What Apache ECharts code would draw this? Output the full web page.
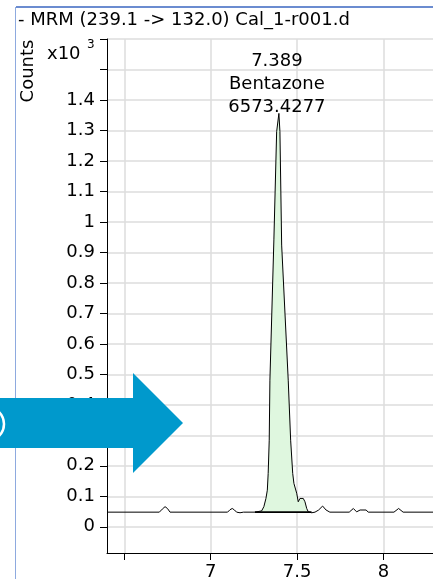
<!DOCTYPE html>
<html>
<head>
<meta charset="utf-8">
<script src="https://cdn.jsdelivr.net/npm/echarts@6/dist/echarts.min.js"></script>
<style>
html,body{margin:0;padding:0;background:#fff;}
#c{width:433px;height:579px;}
</style>
</head>
<body>
<div id="c"></div>
<script>
// ---- data (counts in x10^3) ----
const titleText = '- MRM (239.1 -> 132.0) Cal_1-r001.d';
const yAxisName = 'Counts';
const retentionTimes = [6.40,6.703,6.72,6.736,6.75,6.765,
  7.098,7.112,7.125,7.138,7.150,7.17,7.19,
  7.256,7.295,7.308,7.320,7.328,7.333,7.339,7.343,7.366,7.382,7.395,7.401,7.411,7.449,7.463,7.475,7.482,7.498,7.507,7.517,7.536,7.546,7.556,7.565,
  7.585,7.604,7.625,7.648,7.668,7.690,
  7.802,7.826,7.845,7.865,7.90,7.912,
  8.061,8.088,8.114,8.287];
const counts = [0.048,0.048,0.058,0.066,0.060,0.048,
  0.048,0.056,0.060,0.055,0.048,0.046,0.048,
  0.048,0.052,0.066,0.093,0.120,0.175,0.284,0.481,0.941,1.296,1.356,1.296,0.924,0.481,0.284,0.175,0.142,0.110,0.082,0.093,0.093,0.082,0.060,0.049,
  0.046,0.048,0.055,0.068,0.055,0.048,
  0.048,0.060,0.049,0.055,0.055,0.048,
  0.048,0.060,0.048,0.048];
const integrationStart = 7.256;
const integrationEnd = 7.584;
const integrationBaseline = 0.048;
const peakLabelRT = '7.389';
const peakLabelName = 'Bentazone';
const peakLabelArea = '6573.4277';
const xTickValues = [6.5, 7, 7.5, 8];
const xLabelValues = [7, 7.5, 8];
const yTickValues = [0,0.1,0.2,0.3,0.4,0.5,0.6,0.7,0.8,0.9,1.0,1.1,1.2,1.3,1.4,1.5,1.6];
const yLabelValues = [0,0.1,0.2,0.3,0.4,0.5,0.6,0.7,0.8,0.9,1.0,1.1,1.2,1.3,1.4];

// ---- build ----
const FONT = 'DejaVu Sans';
const FS = 18;
let apexIdx = 0;
counts.forEach((v,i)=>{ if (v > counts[apexIdx]) apexIdx = i; });
const traceData = retentionTimes.map((t,i)=>[t,counts[i]]);
const fillData = [];
retentionTimes.forEach((t,i)=>{
  if (t >= integrationStart && t <= integrationEnd) fillData.push([t,counts[i]]);
});

const chart = echarts.init(document.getElementById('c'), null, {renderer:'canvas'});
const gridColor = '#dcdcdc';
chart.setOption({
  animation:false,
  backgroundColor:'#fff',
  grid:{left:107, top:39, right:0, bottom:26, containLabel:false, outerBoundsMode:'none'},
  xAxis:{
    type:'value', min:6.4, max:8.287,
    axisLine:{show:true, onZero:false, lineStyle:{color:'#000', width:1}},
    axisTick:{show:true, length:7, customValues:xTickValues, lineStyle:{color:'#000'}},
    axisLabel:{show:true, customValues:xLabelValues, margin:10, fontFamily:FONT, fontSize:FS, color:'#000',
      formatter:(v)=>String(v)},
    splitLine:{show:true, lineStyle:{color:gridColor, width:1.5}}
  },
  yAxis:{
    type:'value', min:-0.086, max:1.6,
    axisLine:{show:true, onZero:false, lineStyle:{color:'#000', width:1}},
    axisTick:{show:true, length:7, customValues:yTickValues, lineStyle:{color:'#000'}},
    axisLabel:{show:true, customValues:yLabelValues, margin:12, fontFamily:FONT, fontSize:FS, color:'#000',
      formatter:(v)=>String(Number(v.toFixed(1)))},
    splitLine:{show:true, lineStyle:{color:gridColor, width:1.5}}
  },
  series:[
    {type:'line', data:fillData, symbol:'none', silent:true,
      lineStyle:{width:0}, areaStyle:{color:'#dff7df', opacity:1, origin:integrationBaseline}, z:1},
    {type:'line', data:[[integrationStart,integrationBaseline],[integrationEnd,integrationBaseline]],
      symbol:'none', lineStyle:{color:'#000', width:1.8}, z:2},
    {type:'line', data:traceData, symbol:'none', lineStyle:{color:'#000', width:1}, z:3},
    {type:'scatter', data:[[retentionTimes[apexIdx], counts[apexIdx]]], symbolSize:0, silent:true, z:4,
      itemStyle:{opacity:1, color:'#000'},
      label:{show:true, position:'top', distance:0, offset:[-2,5], opacity:1,
        formatter: peakLabelRT + '\n' + peakLabelName + '\n' + peakLabelArea,
        fontFamily:FONT, fontSize:FS, lineHeight:23, color:'#000', align:'center'}}
  ],
  graphic:[
    {type:'line', shape:{x1:16,y1:7,x2:433,y2:7}, style:{stroke:'#3a66c0', lineWidth:1.3}, z:10},
    {type:'line', shape:{x1:15.5,y1:7,x2:15.5,y2:579}, style:{stroke:'#8eaadf', lineWidth:1}, z:10},
    {type:'text', left:18, top:11, style:{text:titleText, font:FS+'px "DejaVu Sans"', fill:'#000'}, z:10},
    {type:'text', x:28, y:71, rotation:Math.PI/2, style:{text:yAxisName, font:FS+'px "DejaVu Sans"', fill:'#000', align:'center', verticalAlign:'middle'}, z:10},
    {type:'text', x:47, y:54, style:{text:'x10', font:FS+'px "DejaVu Sans"', fill:'#000', verticalAlign:'middle'}, z:10},
    {type:'text', x:87, y:45, style:{text:'3', font:'12px "DejaVu Sans"', fill:'#000', verticalAlign:'middle'}, z:10},
    {type:'polygon', shape:{points:[[0,398],[133,398],[133,373],[183,423],[133,473],[133,448],[0,448]]},
      style:{fill:'#0099cc'}, z:20},
    {type:'circle', shape:{cx:-13, cy:424, r:17}, style:{fill:'none', stroke:'#fff', lineWidth:2.5}, z:21}
  ]
});
</script>
</body>
</html>
